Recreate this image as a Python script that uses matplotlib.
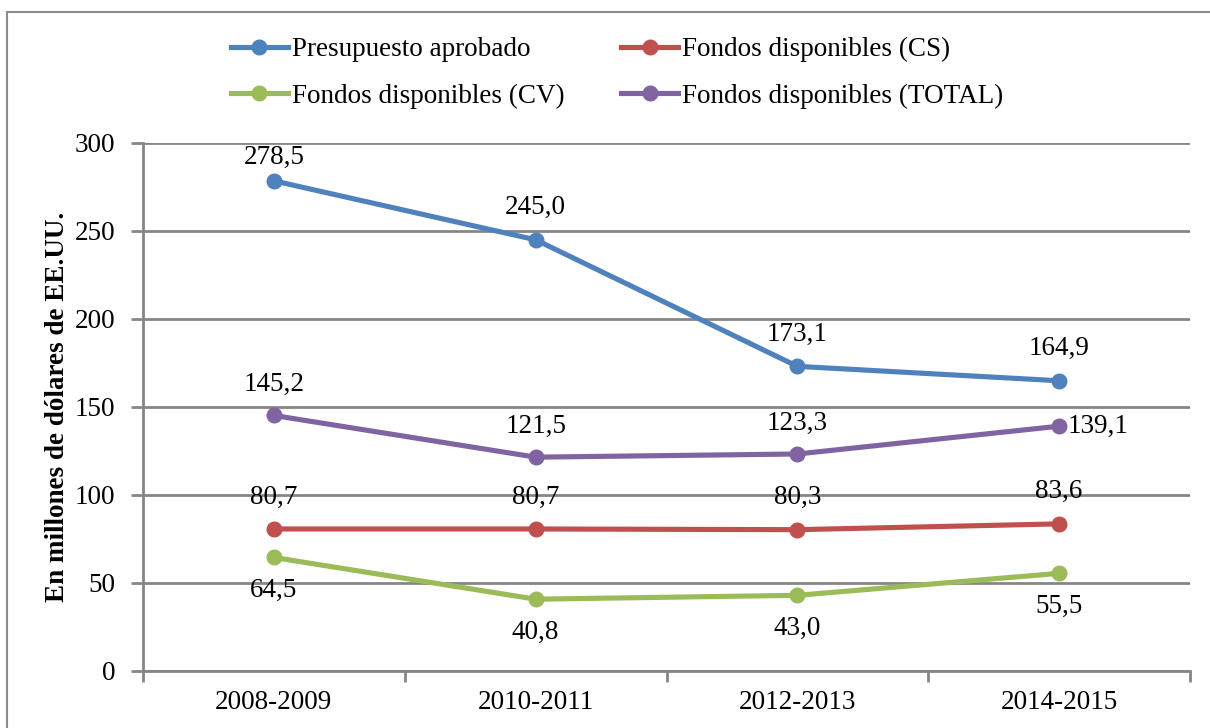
import matplotlib.pyplot as plt
from matplotlib.patches import Rectangle

periodos = ["2008-2009", "2010-2011", "2012-2013", "2014-2015"]

presupuesto = [278.5, 245.0, 173.1, 164.9]
fondos_cs = [80.7, 80.7, 80.3, 83.6]
fondos_cv = [64.5, 40.8, 43.0, 55.5]
fondos_total = [145.2, 121.5, 123.3, 139.1]

plt.rcParams['font.family'] = ['Liberation Serif', 'DejaVu Serif']

fig = plt.figure(figsize=(12.1, 7.28), dpi=100)
ax = fig.add_axes([143/1210, 57/728, 1047/1210, 528/728])

# borde del grafico (como en Excel)
fig.patches.append(Rectangle((7/1210, -0.1), 1.2, 1 - 12/728 + 0.1,
                             transform=fig.transFigure, fill=False,
                             edgecolor='#8c8c8c', linewidth=1.5))

x = list(range(len(periodos)))
gris = '#868686'

series = [
    ("Presupuesto aprobado", presupuesto, '#4F81BD'),
    ("Fondos disponibles (CS)", fondos_cs, '#C0504D'),
    ("Fondos disponibles (CV)", fondos_cv, '#9BBB59'),
    ("Fondos disponibles (TOTAL)", fondos_total, '#8064A2'),
]

handles = {}
for nombre, vals, color in series:
    h, = ax.plot(x, vals, color=color, lw=3.7, marker='o', ms=10.5,
                 label=nombre, zorder=3)
    handles[nombre] = h

def etiqueta(v, xi, dy, dx=0, ha='center'):
    ax.annotate(f"{v:.1f}".replace('.', ','), (xi, v), xytext=(dx, dy),
                textcoords='offset pixels', ha=ha, va='center',
                fontsize=19.5, zorder=4)

for i, v in enumerate(presupuesto):
    etiqueta(v, i, 23 if i == 0 else 32)
for i, v in enumerate(fondos_cs):
    etiqueta(v, i, 32)
for i, v in enumerate(fondos_cv):
    etiqueta(v, i, -33)
for i, v in enumerate(fondos_total):
    if i == len(fondos_total) - 1:
        etiqueta(v, i, 0, dx=8, ha='left')
    else:
        etiqueta(v, i, 31)

ax.set_xlim(-0.5, 3.5)
ax.set_ylim(0, 300)
ax.set_yticks(range(0, 301, 50))
ax.set_xticks(x)
ax.set_xticklabels(periodos)
ax.set_xticks([-0.5, 0.5, 1.5, 2.5, 3.5], minor=True)
ax.tick_params(axis='x', which='major', length=0, pad=14, labelsize=19.5)
ax.tick_params(axis='x', which='minor', length=8, width=2, color=gris)
ax.tick_params(axis='y', length=9, width=2, color=gris, pad=11, labelsize=19.5)

ax.grid(axis='y', color=gris, lw=2, zorder=1)
for s in ['top', 'right']:
    ax.spines[s].set_visible(False)
for s in ['left', 'bottom']:
    ax.spines[s].set_color(gris)
    ax.spines[s].set_linewidth(2)

ax.set_ylabel("En millones de dólares de EE.UU.", fontsize=19.5, fontweight='bold')
ax.yaxis.set_label_coords(-73/1047, 0.5)

orden = ["Presupuesto aprobado", "Fondos disponibles (CV)",
         "Fondos disponibles (CS)", "Fondos disponibles (TOTAL)"]
fig.legend([handles[n] for n in orden], orden, ncol=2, frameon=False,
           loc='center', bbox_to_anchor=(617/1210, 1 - 73/728), fontsize=19.5,
           handlelength=2.1, handletextpad=0.15, columnspacing=2.1,
           labelspacing=0.8)

fig.savefig("out.png", dpi=100)
